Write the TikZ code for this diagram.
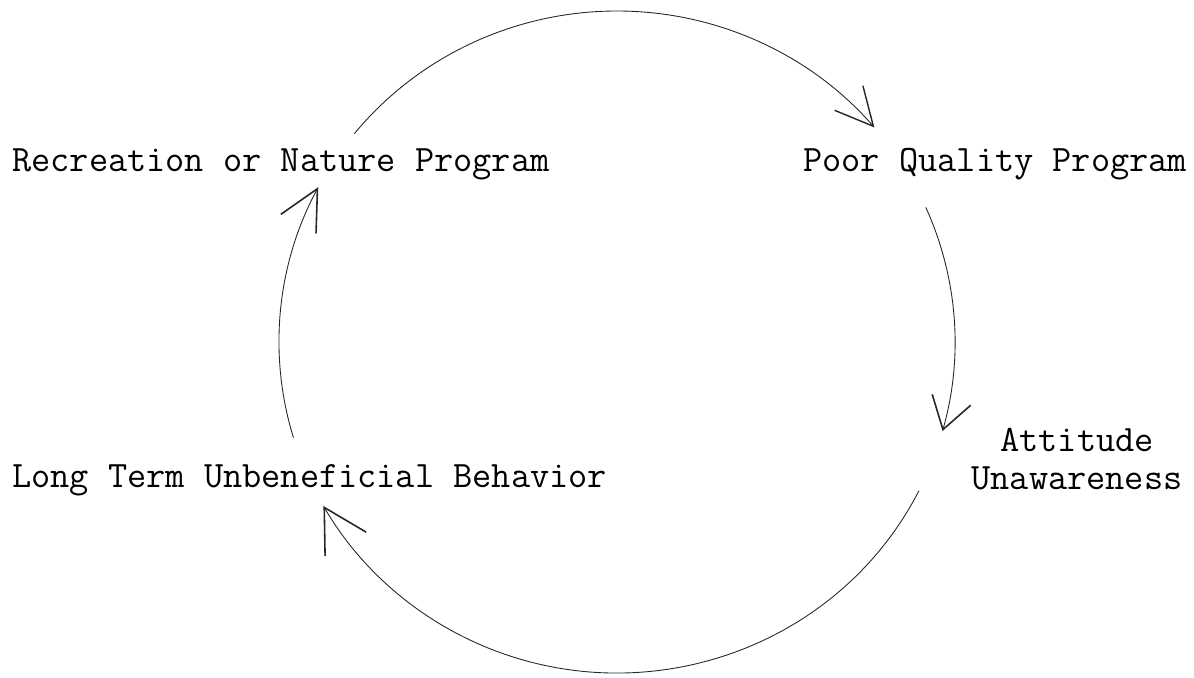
\documentclass[tikz,border=0pt]{standalone}
\usepackage{fontspec}
\usetikzlibrary{arrows.meta}

\tikzset{
    label/.style={font=\ttfamily\fontsize{21.2}{21.5}\selectfont, inner sep=0pt},
    cycle line/.style={line width=0.5pt, black!85}
}

\begin{document}
\begin{tikzpicture}[x=0.02cm,y=0.02cm]
        \useasboundingbox (0,0) rectangle (1194,677);

        \coordinate (cen) at (617,335);

        \node[label, anchor=base west] (rec) at (12,505) {Recreation or Nature Program};
        \node[label, anchor=base west] (poor) at (803,505) {Poor Quality Program};
        \node[label, anchor=south, align=center] (att) at (1077,187) {Attitude\\Unawareness};
        \node[label, anchor=base west] (long) at (12,190) {Long Term Unbeneficial Behavior};

        \draw[cycle line, -{Straight Barb[length=0.75cm, width=0.75cm, line width=0.8pt]}]
            (cen) ++(141:338 and 331) arc[start angle=141, end angle=40.4, x radius=338, y radius=331];
        \draw[cycle line, -{Straight Barb[length=0.62cm, width=0.8cm, line width=0.9pt]}]
            (cen) ++(24:338 and 331) arc[start angle=24, end angle=-15.6, x radius=338, y radius=331];
        \draw[cycle line, -{Straight Barb[length=0.85cm, width=0.95cm, line width=0.9pt]}]
            (cen) ++(-26.7:338 and 331) arc[start angle=-26.7, end angle=-150.3, x radius=338, y radius=331];
        \draw[cycle line, -{Straight Barb[length=0.8cm, width=0.8cm, line width=0.9pt]}]
            (cen) ++(196.8:338 and 331) arc[start angle=196.8, end angle=152.1, x radius=338, y radius=331];
    \end{tikzpicture}
\end{document}
